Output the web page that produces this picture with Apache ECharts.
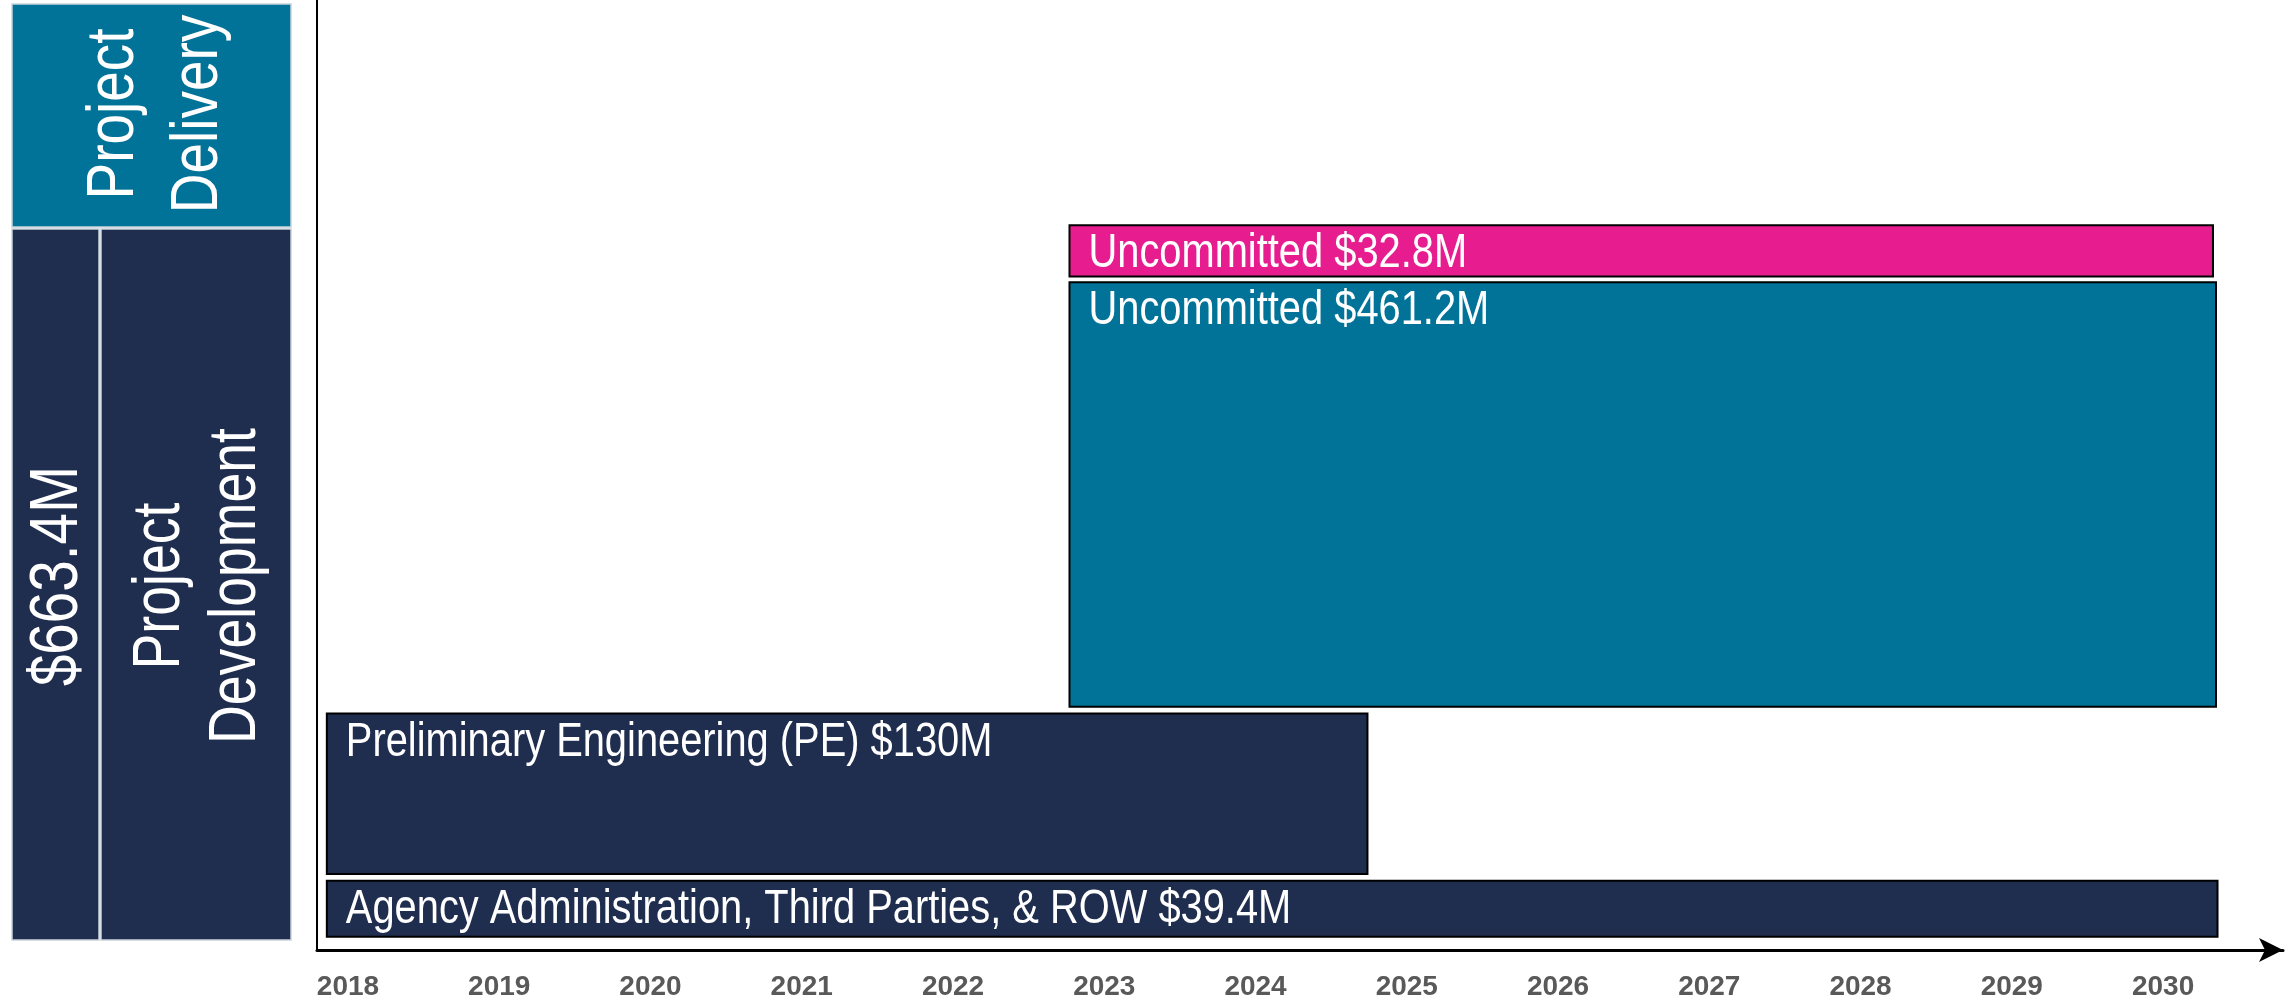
<!DOCTYPE html>
<html>
<head>
<meta charset="utf-8">
<script src="https://cdn.jsdelivr.net/npm/echarts@6/dist/echarts.min.js"></script>
<style>
  html, body { margin: 0; padding: 0; background: #fff; }
  #main { width: 2292px; height: 1004px; }
</style>
</head>
<body>
<div id="main"></div>
<script>
// 数据
const years = [2018, 2019, 2020, 2021, 2022, 2023, 2024, 2025, 2026, 2027, 2028, 2029, 2030];
const taskNames = [
    'Agency Administration, Third Parties, & ROW $39.4M',
    'Preliminary Engineering (PE) $130M',
    'Uncommitted $461.2M',
    'Uncommitted $32.8M'
];
const startYear = [2017.86, 2017.86, 2022.77, 2022.77];
const endYear = [2030.36, 2024.74, 2030.35, 2030.33];
// 纵向层级 (0-100)
const rowBottom = [1.4, 8.0, 25.6, 70.9];
const rowTop = [7.3, 24.9, 70.3, 76.3];

const NAVY = '#1f2d4e', TEAL = '#017398', PINK = '#e61c8f';
const barColors = [NAVY, NAVY, TEAL, PINK];
const FONT = '"Liberation Sans", Arial, sans-serif';
const NARROW = 0.83; // 模拟 Arial Narrow

const chart = echarts.init(document.getElementById('main'));

// 左侧分类框
function sideBox(x, y, w, h, fill) {
    return {
        type: 'rect',
        shape: { x: x, y: y, width: w, height: h },
        style: { fill: fill, stroke: '#c9d3dc', lineWidth: 1.5 },
        silent: true
    };
}
function sideText(x, y, text, size, lh, sx) {
    return {
        type: 'text',
        x: x, y: y,
        rotation: Math.PI / 2,
        scaleX: sx,
        style: {
            text: text,
            fill: '#fff',
            fontSize: size,
            lineHeight: lh,
            fontFamily: FONT,
            align: 'center',
            verticalAlign: 'middle'
        },
        silent: true
    };
}

chart.setOption({
    animation: false,
    grid: {
        left: 317,
        right: 9,
        top: 0,
        bottom: 54
    },
    xAxis: {
        type: 'value',
        min: 2017.795,
        max: 2030.793,
        splitLine: { show: false },
        axisTick: { show: false },
        axisLine: {
            show: true,
            symbol: ['none', 'arrow'],
            symbolSize: [18, 24],
            lineStyle: { color: '#000', width: 3 }
        },
        axisLabel: {
            customValues: years,
            margin: 23,
            color: '#595959',
            fontWeight: 'bold',
            fontSize: 28,
            fontFamily: FONT,
            formatter: v => String(v)
        }
    },
    yAxis: {
        type: 'value',
        min: 0,
        max: 100,
        splitLine: { show: false },
        axisTick: { show: false },
        axisLabel: { show: false },
        axisLine: {
            show: true,
            lineStyle: { color: '#000', width: 2 }
        }
    },
    series: [{
        type: 'custom',
        renderItem: function (params, api) {
            const i = params.dataIndex;
            const p0 = api.coord([api.value(0), api.value(3)]);
            const p1 = api.coord([api.value(1), api.value(2)]);
            return {
                type: 'group',
                children: [{
                    type: 'rect',
                    shape: { x: p0[0], y: p0[1], width: p1[0] - p0[0], height: p1[1] - p0[1] },
                    style: { fill: barColors[i], stroke: '#000', lineWidth: 2 }
                }, {
                    type: 'text',
                    x: p0[0] + 19,
                    y: p0[1] + 5,
                    scaleX: NARROW,
                    style: {
                        text: taskNames[i],
                        x: 0,
                        y: 0,
                        fill: '#fff',
                        fontSize: 48,
                        fontFamily: FONT,
                        align: 'left',
                        verticalAlign: 'top'
                    }
                }]
            };
        },
        encode: { x: [0, 1], y: [2, 3] },
        data: taskNames.map((n, i) => [startYear[i], endYear[i], rowBottom[i], rowTop[i]])
    }],
    graphic: [
        sideBox(12, 4, 279, 223, TEAL),
        sideBox(12, 229, 87, 711, NAVY),
        sideBox(101, 229, 190, 711, NAVY),
        sideText(157, 114, 'Project\nDelivery', 67, 84, 0.82),
        sideText(58, 576, '$663.4M', 69, 80, 0.82),
        sideText(199, 586, 'Project\nDevelopment', 67, 76, 0.8)
    ]
}, true);
</script>
</body>
</html>
